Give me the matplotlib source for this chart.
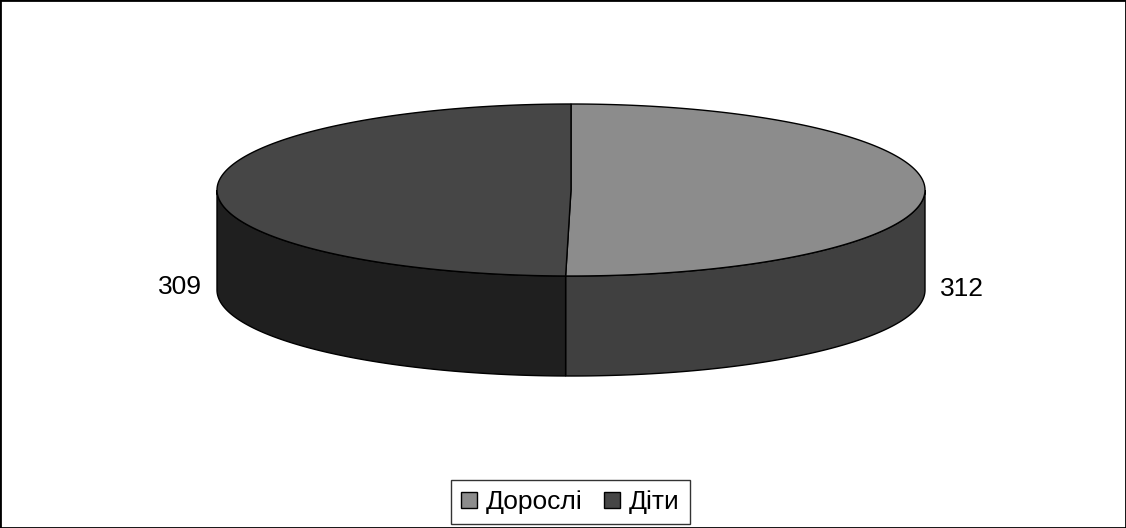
import numpy as np
import matplotlib
matplotlib.use("Agg")
import matplotlib.pyplot as plt
from matplotlib.patches import Polygon, Patch, Rectangle

plt.rcParams['font.family'] = ['Liberation Sans', 'DejaVu Sans']

# Дані
labels = ["Дорослі", "Діти"]
values = [312, 309]
top_colors = ["#8c8c8c", "#464646"]
side_colors = ["#404040", "#1f1f1f"]

# Геометрія "3D" круга (в пікселях)
cx, cy = 571, 190
rx, ry = 354, 86
depth = 100

fig = plt.figure(figsize=(11.26, 5.28), dpi=100)
ax = fig.add_axes([0, 0, 1, 1])
ax.set_xlim(0, 1126)
ax.set_ylim(528, 0)
ax.axis("off")


def arc(a0, a1, dy=0, n=200):
    t = np.radians(np.linspace(a0, a1, n))
    return np.column_stack([cx + rx * np.cos(t), cy + dy - ry * np.sin(t)])


total = sum(values)
start = 90.0
slices = []
for v in values:
    end = start - 360.0 * v / total
    slices.append((start, end))
    start = end

# Бокові стінки (видима передня частина)
for (a0, a1), sc in zip(slices, side_colors):
    for w0, w1 in [(0, -180), (-360, -540), (360, 180)]:
        s = min(a0, w0)
        e = max(a1, w1)
        if s > e:
            top = arc(s, e)
            bot = arc(e, s, dy=depth)
            ax.add_patch(Polygon(np.vstack([top, bot]), closed=True,
                                 facecolor=sc, edgecolor="black", lw=1))

# Верхня поверхня
for (a0, a1), tc in zip(slices, top_colors):
    pts = np.vstack([[cx, cy], arc(a0, a1)])
    ax.add_patch(Polygon(pts, closed=True, facecolor=tc,
                         edgecolor="black", lw=1))

# Підписи значень
for (a0, a1), v in zip(slices, values):
    mid = np.radians((a0 + a1) / 2)
    x = cx + (rx + 15) * np.cos(mid)
    y = cy + depth - ry * np.sin(mid) - 2
    ax.text(x, y, str(v), fontsize=19, ha="left" if np.cos(mid) > 0 else "right",
            va="center")

# Легенда
handles = [Patch(facecolor=c, edgecolor="black", lw=1) for c in top_colors]
leg = ax.legend(handles, labels, loc="lower center", bbox_to_anchor=(0.5065, 0.007),
                ncol=2, fontsize=19, frameon=True, fancybox=False, shadow=False,
                handlelength=0.6, handleheight=0.6, handletextpad=0.35,
                columnspacing=0.8, borderpad=0.38, borderaxespad=0)
leg.get_frame().set_edgecolor("black")
leg.get_frame().set_linewidth(1)

# Рамка навколо діаграми
fig.patches.append(Rectangle((0, 0), 1, 1, transform=fig.transFigure, fill=False,
                             edgecolor="black", lw=2))

plt.savefig("out.png", dpi=100)
